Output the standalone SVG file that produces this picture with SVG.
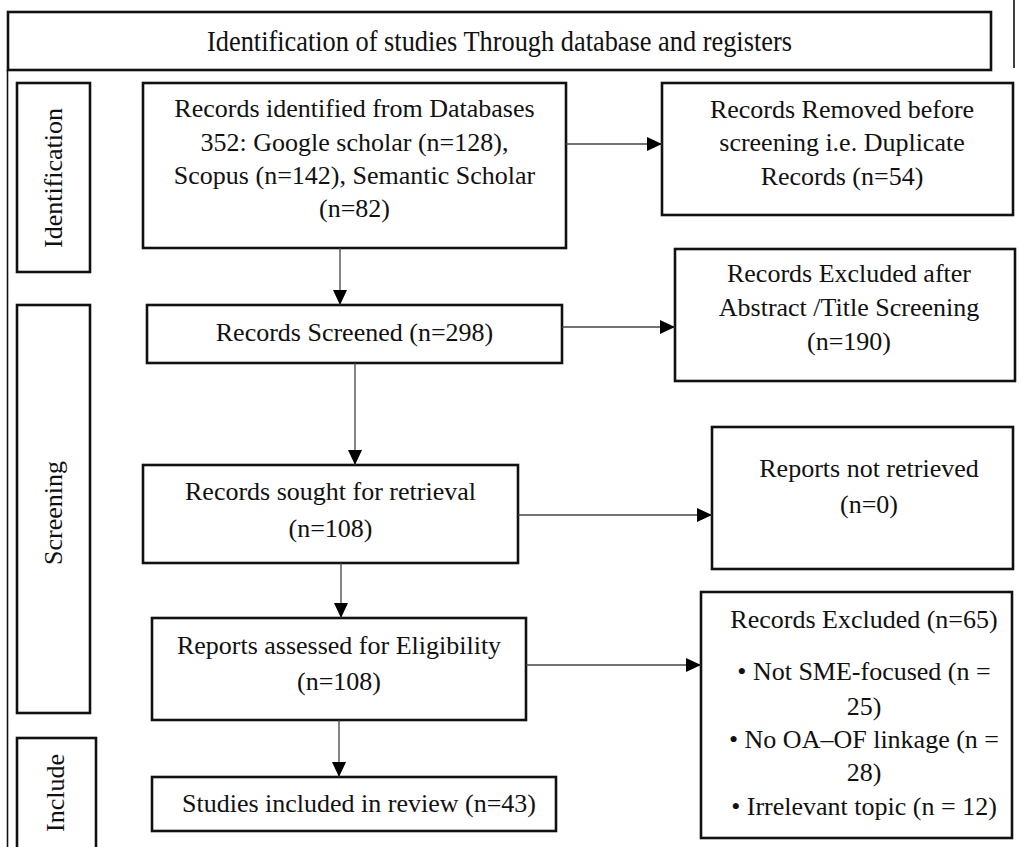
<svg xmlns="http://www.w3.org/2000/svg" width="1019" height="847" viewBox="0 0 1019 847">
<style>
.box{fill:#fff;stroke:#111;stroke-width:2.6}
.t{font-family:"Liberation Serif","Times New Roman",serif;font-size:26px;fill:#111;text-anchor:middle}
.c{stroke:#444;stroke-width:1.3;fill:none}
.frame{stroke:#111;stroke-width:1.6;fill:none}
</style>
<defs>
<marker id="ah" markerUnits="userSpaceOnUse" markerWidth="16" markerHeight="14" refX="15" refY="7" orient="auto">
<path d="M0,0 L15,7 L0,14 z" fill="#000"/>
</marker>
</defs>
<rect width="1019" height="847" fill="#fff"/>
<g id="frame">
<line class="frame" x1="7.5" y1="70" x2="7.5" y2="847"/>
<line class="frame" x1="1014" y1="0" x2="1014" y2="68"/>
</g>
<g id="title">
<rect class="box" x="8" y="12" width="983" height="58"/>
<text class="t" x="499.5" y="51" style="font-size:29px" textLength="585" lengthAdjust="spacingAndGlyphs">Identification of studies Through database and registers</text>
</g>
<g id="phase-identification">
<rect class="box" x="17" y="83" width="73" height="189"/>
<text class="t" transform="translate(62,178) rotate(-90)" x="0" y="0">Identification</text>
</g>
<g id="phase-screening">
<rect class="box" x="17" y="305" width="73" height="408"/>
<text class="t" transform="translate(62,513) rotate(-90)" x="0" y="0">Screening</text>
</g>
<g id="phase-include">
<rect class="box" x="17" y="738" width="79" height="120"/>
<text class="t" transform="translate(64,793) rotate(-90)" x="0" y="0">Include</text>
</g>
<g id="records-identified">
<rect class="box" x="143" y="83" width="423" height="165"/>
<text class="t" x="354.5" y="117">Records identified from Databases</text>
<text class="t" x="354.5" y="151">352: Google scholar (n=128),</text>
<text class="t" x="354.5" y="184">Scopus (n=142), Semantic Scholar</text>
<text class="t" x="354.5" y="217">(n=82)</text>
</g>
<g id="records-removed">
<rect class="box" x="662" y="83" width="351" height="132"/>
<text class="t" x="842" y="118">Records Removed before</text>
<text class="t" x="842" y="151">screening i.e. Duplicate</text>
<text class="t" x="842" y="185">Records (n=54)</text>
</g>
<g id="records-screened">
<rect class="box" x="147" y="305" width="415" height="58"/>
<text class="t" x="354.5" y="341">Records Screened (n=298)</text>
</g>
<g id="records-excluded-after">
<rect class="box" x="675" y="249" width="340" height="132"/>
<text class="t" x="849" y="282">Records Excluded after</text>
<text class="t" x="849" y="316">Abstract /Title Screening</text>
<text class="t" x="849" y="350">(n=190)</text>
</g>
<g id="records-sought">
<rect class="box" x="143" y="465" width="375" height="98"/>
<text class="t" x="330.5" y="500">Records sought for retrieval</text>
<text class="t" x="330.5" y="537">(n=108)</text>
</g>
<g id="reports-not-retrieved">
<rect class="box" x="712" y="427" width="301" height="142"/>
<text class="t" x="869" y="477">Reports not retrieved</text>
<text class="t" x="869" y="513">(n=0)</text>
</g>
<g id="reports-assessed">
<rect class="box" x="152" y="618" width="374" height="102"/>
<text class="t" x="339" y="654">Reports assessed for Eligibility</text>
<text class="t" x="339" y="690">(n=108)</text>
</g>
<g id="records-excluded">
<rect class="box" x="701" y="592" width="311" height="246"/>
<text class="t" x="864" y="628">Records Excluded (n=65)</text>
<text class="t" x="864" y="680">• Not SME-focused (n =</text>
<text class="t" x="864" y="715">25)</text>
<text class="t" x="864" y="748">• No OA–OF linkage (n =</text>
<text class="t" x="864" y="781">28)</text>
<text class="t" x="864" y="815">• Irrelevant topic (n = 12)</text>
</g>
<g id="studies-included">
<rect class="box" x="152" y="777" width="404" height="54"/>
<text class="t" x="359" y="812">Studies included in review (n=43)</text>
</g>
<g id="connectors">
<line class="c" x1="566" y1="144" x2="662" y2="144" marker-end="url(#ah)"/>
<line class="c" x1="340" y1="248" x2="340" y2="305" marker-end="url(#ah)"/>
<line class="c" x1="562" y1="327" x2="675" y2="327" marker-end="url(#ah)"/>
<line class="c" x1="355" y1="363" x2="355" y2="465" marker-end="url(#ah)"/>
<line class="c" x1="518" y1="515" x2="712" y2="515" marker-end="url(#ah)"/>
<line class="c" x1="341" y1="563" x2="341" y2="618" marker-end="url(#ah)"/>
<line class="c" x1="526" y1="665" x2="701" y2="665" marker-end="url(#ah)"/>
<line class="c" x1="339" y1="720" x2="339" y2="777" marker-end="url(#ah)"/>
</g>
</svg>
